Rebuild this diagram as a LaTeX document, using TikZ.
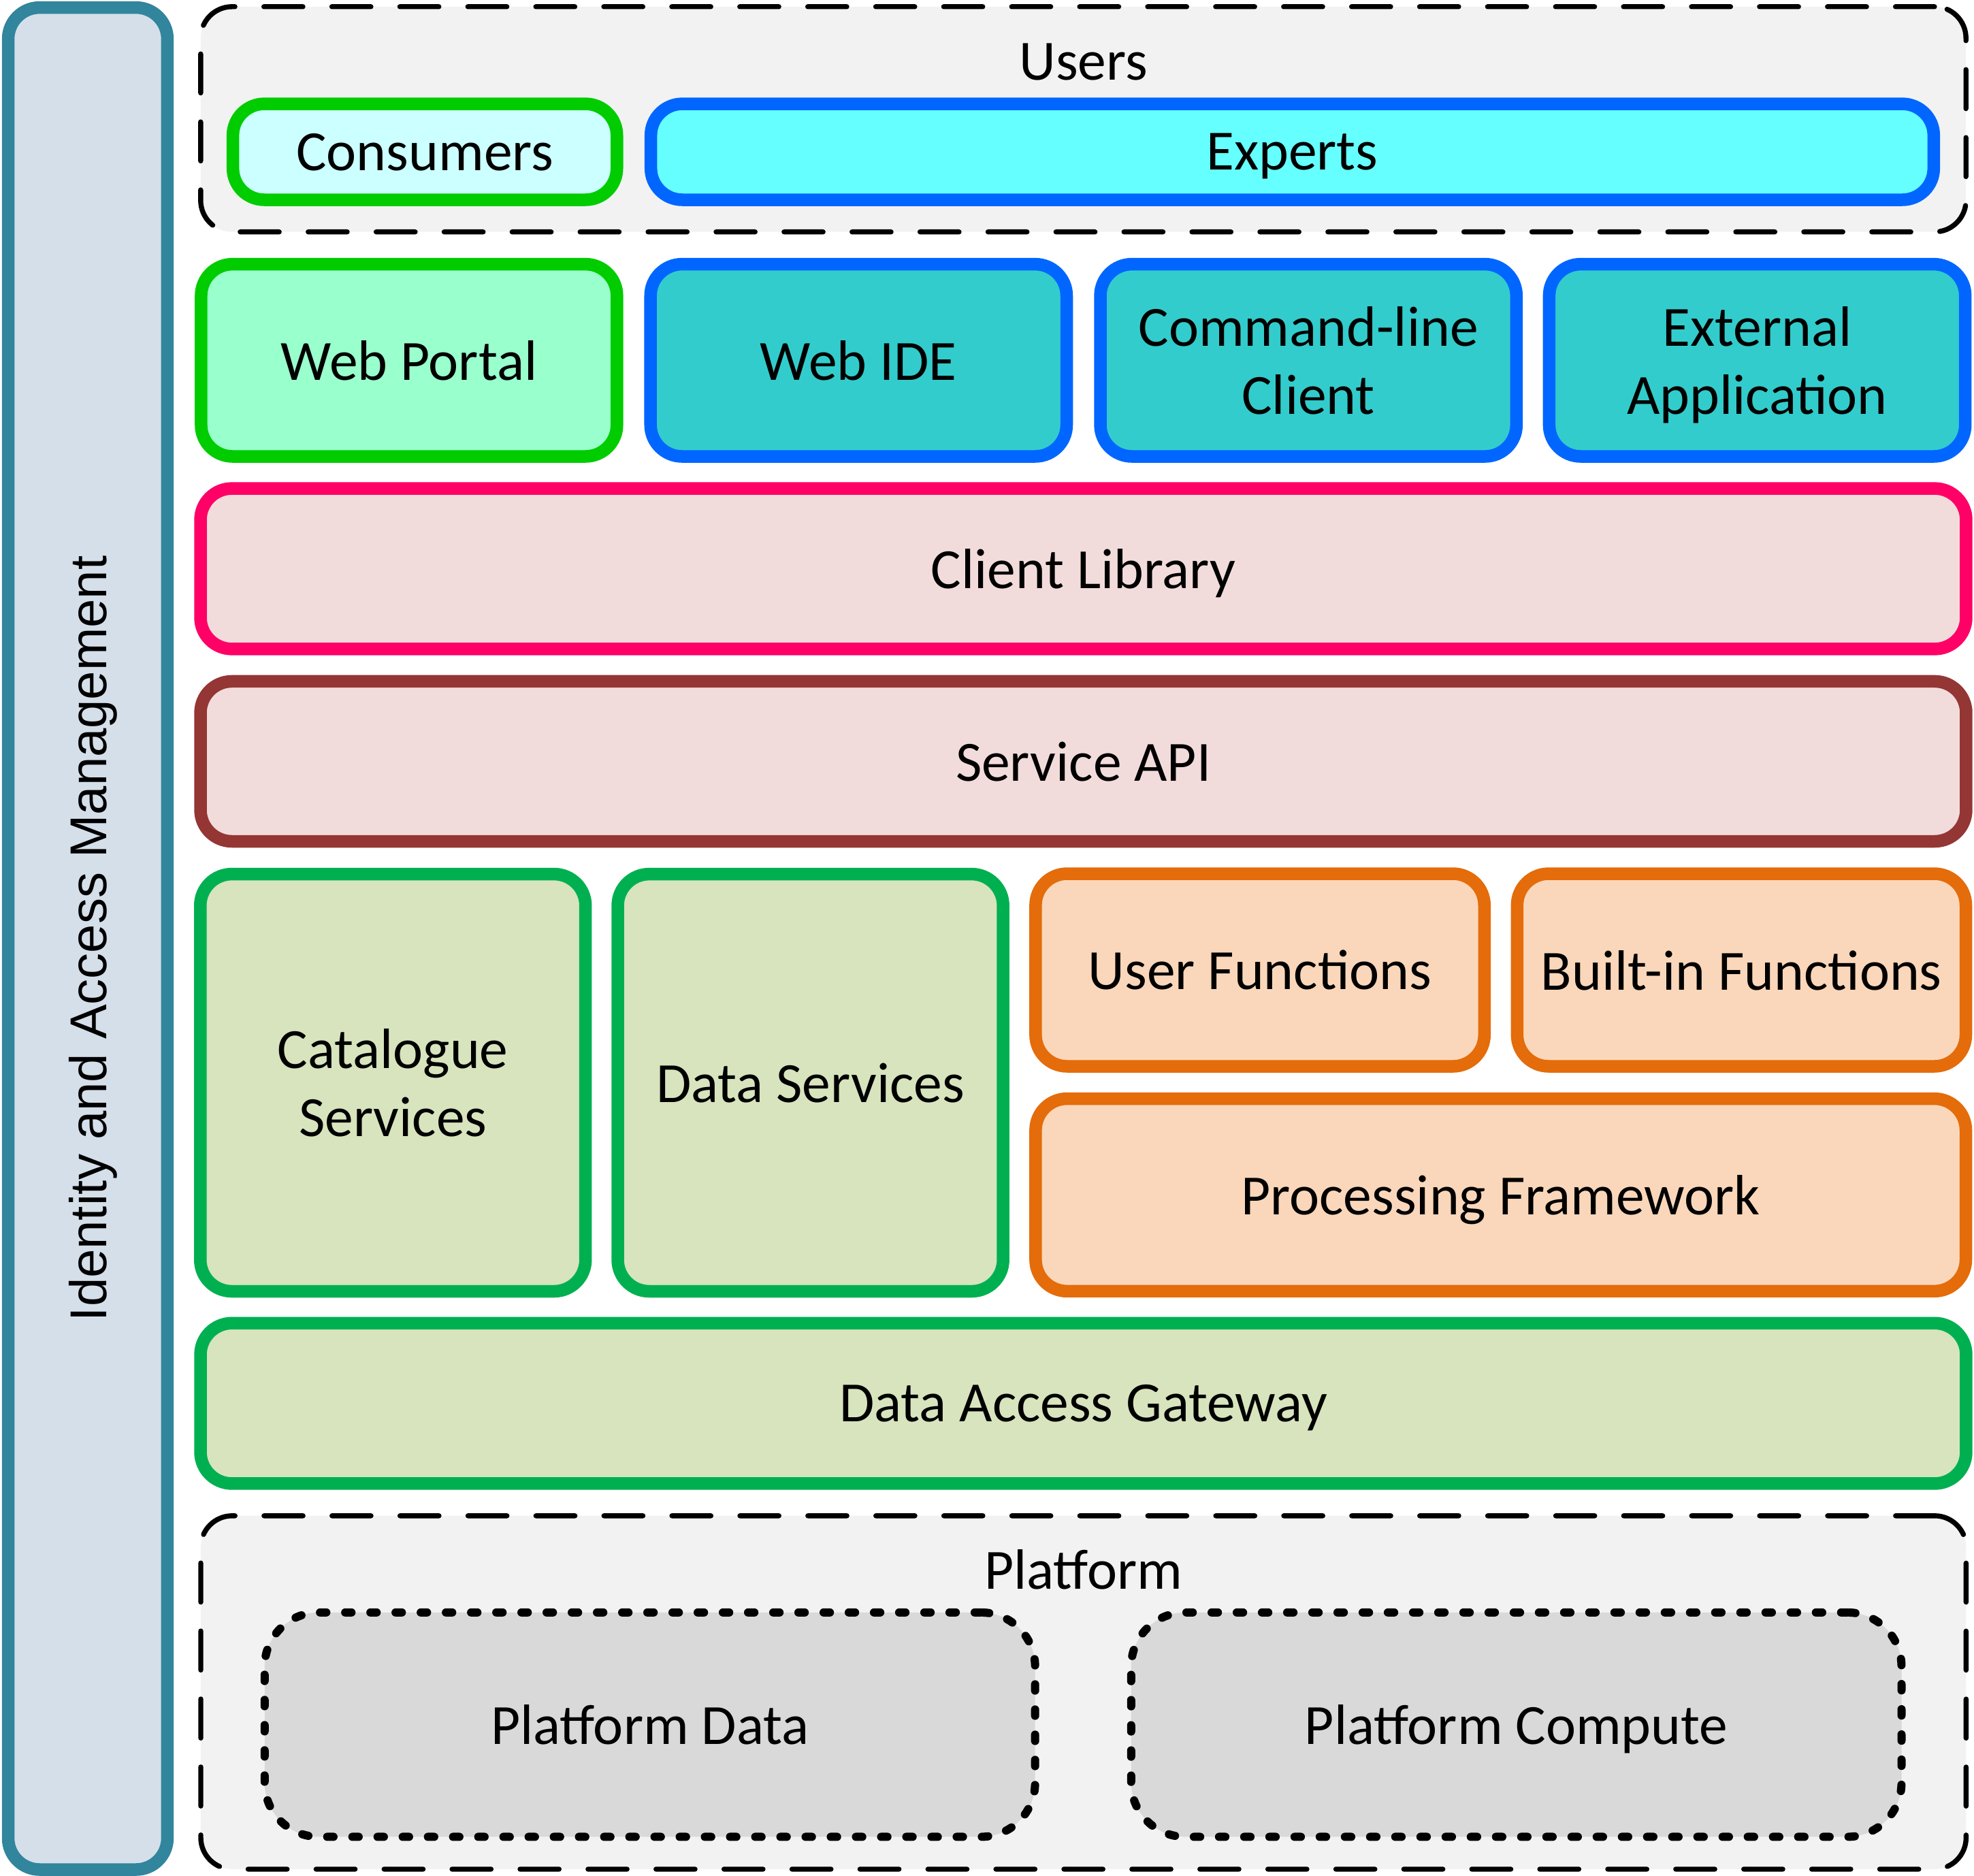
\documentclass[tikz,border=0pt]{standalone}
\usepackage{fontspec}
\setmainfont{Carlito}
\newfontfamily\iamfont{Liberation Sans}

\definecolor{iamEdge}{HTML}{31859C}
\definecolor{iamFill}{HTML}{D5DFEA}
\definecolor{paleGrey}{HTML}{F2F2F2}
\definecolor{midGrey}{HTML}{D9D9D9}
\definecolor{userGreen}{HTML}{00CC00}
\definecolor{userBlue}{HTML}{0066FF}
\definecolor{consFill}{HTML}{CCFFFF}
\definecolor{expFill}{HTML}{66FFFF}
\definecolor{portalFill}{HTML}{99FFCC}
\definecolor{toolFill}{HTML}{33CCCC}
\definecolor{libEdge}{HTML}{FF0066}
\definecolor{apiEdge}{HTML}{943634}
\definecolor{apiFill}{HTML}{F2DCDB}
\definecolor{dataEdge}{HTML}{00B050}
\definecolor{dataFill}{HTML}{D7E4BD}
\definecolor{procEdge}{HTML}{E46C0A}
\definecolor{procFill}{HTML}{FAD7BA}

\begin{document}
\begin{tikzpicture}[
        layer/.style={rectangle, rounded corners=0.25cm, line width=1mm, inner sep=0pt, outer sep=0pt,
            align=center, text depth=0pt, font=\fontsize{12.85}{15.3}\selectfont},
        group/.style={layer, draw=black, fill=paleGrey, line width=0.4mm, line cap=round,
            dash pattern=on 3.1mm off 2.3mm},
        res/.style={layer, draw=black, fill=midGrey, rounded corners=0.43cm, line width=0.65mm,
            line cap=round, dash pattern=on 0.5mm off 1.5mm}
    ]
        \useasboundingbox (0,0) rectangle (15.68,-14.90);

        % identity and access management
        \node [layer, draw=iamEdge, fill=iamFill, minimum width=1.265cm, minimum height=14.79cm] (iam) at (0.6975,-7.455) {};
        \node [rotate=90, inner sep=0pt, text depth=0pt, font=\iamfont\fontsize{11.7}{14}\selectfont] (iamtext) at (iam.center) {Identity and Access Management};

        % users
        \node [group, minimum width=14.022cm, minimum height=1.789cm] (users) at (8.605,-0.9475) {};
        \node [anchor=base, font=\fontsize{12.85}{15.3}\selectfont] (userstitle) at (8.605,-0.637) {Users};
        \node [layer, draw=userGreen, fill=consFill, minimum width=3.05cm, minimum height=0.762cm] (consumers) at (3.375,-1.206) {Consumers};
        \node [layer, draw=userBlue, fill=expFill, minimum width=10.19cm, minimum height=0.762cm] (experts) at (10.265,-1.206) {Experts};

        % clients
        \node [layer, draw=userGreen, fill=portalFill, minimum width=3.303cm, minimum height=1.527cm] (webportal) at (3.249,-2.862) {Web Portal};
        \node [layer, draw=userBlue, fill=toolFill, minimum width=3.305cm, minimum height=1.527cm] (webide) at (6.82,-2.862) {Web IDE};
        \node [layer, draw=userBlue, fill=toolFill, minimum width=3.305cm, minimum height=1.527cm] (cmdline) at (10.393,-2.862) {Command-line\\Client};
        \node [layer, draw=userBlue, fill=toolFill, minimum width=3.305cm, minimum height=1.527cm] (extapp) at (13.958,-2.862) {External\\Application};

        \node [layer, draw=libEdge, fill=apiFill, minimum width=14.025cm, minimum height=1.275cm] (clientlib) at (8.605,-4.5175) {Client Library};
        \node [layer, draw=apiEdge, fill=apiFill, minimum width=14.025cm, minimum height=1.271cm] (serviceapi) at (8.605,-6.0475) {Service API};

        % services
        \node [layer, draw=dataEdge, fill=dataFill, minimum width=3.06cm, minimum height=3.314cm] (catalogue) at (3.121,-8.60) {Catalogue\\Services};
        \node [layer, draw=dataEdge, fill=dataFill, minimum width=3.061cm, minimum height=3.314cm] (dataserv) at (6.4375,-8.60) {Data Services};
        \node [layer, draw=procEdge, fill=procFill, minimum width=3.565cm, minimum height=1.53cm] (userfn) at (10.0085,-7.705) {User Functions};
        \node [layer, draw=procEdge, fill=procFill, minimum width=3.564cm, minimum height=1.53cm] (builtinfn) at (13.833,-7.705) {Built-in Functions};
        \node [layer, draw=procEdge, fill=procFill, minimum width=7.389cm, minimum height=1.529cm] (procfw) at (11.9205,-9.4915) {Processing Framework};

        \node [layer, draw=dataEdge, fill=dataFill, minimum width=14.025cm, minimum height=1.274cm] (gateway) at (8.605,-11.147) {Data Access Gateway};

        % platform
        \node [group, minimum width=14.022cm, minimum height=2.807cm] (platform) at (8.606,-13.4435) {};
        \node [anchor=base, font=\fontsize{12.85}{15.3}\selectfont] (platformtitle) at (8.606,-12.624) {Platform};
        \node [res, minimum width=6.12cm, minimum height=1.782cm] (pdata) at (5.162,-13.699) {Platform Data};
        \node [res, minimum width=6.119cm, minimum height=1.782cm] (pcompute) at (12.0445,-13.699) {Platform Compute};

    \end{tikzpicture}
\end{document}
